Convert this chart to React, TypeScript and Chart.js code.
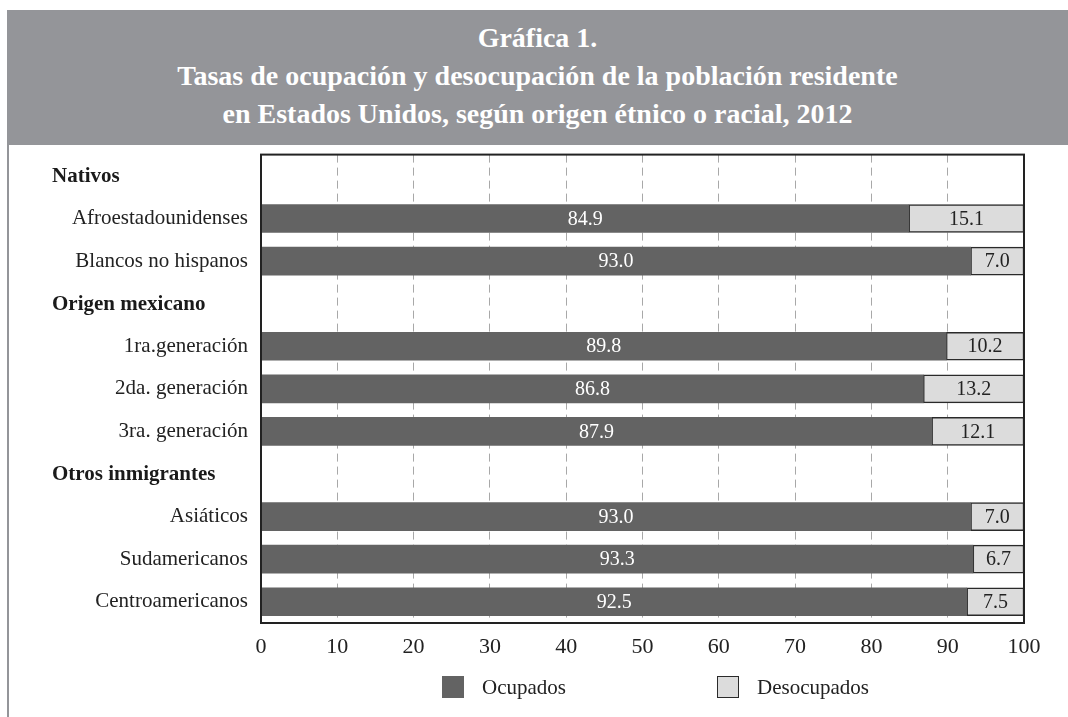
import React, { useEffect, useRef } from "react";
import { Chart, registerables } from "chart.js";

Chart.register(...registerables);

const categories = [
  "Nativos",
  "Afroestadounidenses",
  "Blancos no hispanos",
  "Origen mexicano",
  "1ra.generación",
  "2da. generación",
  "3ra. generación",
  "Otros inmigrantes",
  "Asiáticos",
  "Sudamericanos",
  "Centroamericanos",
];
const headerRows = ["Nativos", "Origen mexicano", "Otros inmigrantes"];
const ocupados = [null, 84.9, 93.0, null, 89.8, 86.8, 87.9, null, 93.0, 93.3, 92.5];
const desocupados = [null, 15.1, 7.0, null, 10.2, 13.2, 12.1, null, 7.0, 6.7, 7.5];
const seriesNames = ["Ocupados", "Desocupados"];
const xTicks = [0, 10, 20, 30, 40, 50, 60, 70, 80, 90, 100];
const titleLines = [
  "Gráfica 1.",
  "Tasas de ocupación y desocupación de la población residente",
  "en Estados Unidos, según origen étnico o racial, 2012",
];

const FONT = '"Liberation Serif", "DejaVu Serif", serif';
const DARK = "#636363";
const LIGHT = "#dcdcdc";
const BANNER = "#949599";

export default function App() {
  const ref = useRef<HTMLCanvasElement | null>(null);

  useEffect(() => {
    if (!ref.current) return;
    const framePlugin = {
      id: "frameAndLabels",
      afterDatasetsDraw(chart: any) {
        const ctx = chart.ctx;
        chart.data.datasets.forEach((ds: any, di: number) => {
          const meta = chart.getDatasetMeta(di);
          meta.data.forEach((el: any, i: number) => {
            const v = ds.data[i];
            if (v === null || v === undefined) return;
            const props = el.getProps(["x", "y", "base"], true);
            const cx = (props.x + props.base) / 2;
            ctx.save();
            ctx.font = `20px ${FONT}`;
            ctx.fillStyle = di === 0 ? "#ffffff" : "#222222";
            ctx.textAlign = "center";
            ctx.textBaseline = "middle";
            ctx.fillText(v.toFixed(1), cx, props.y + 1);
            ctx.restore();
          });
        });
      },
      afterDraw(chart: any) {
        const ctx = chart.ctx;
        const a = chart.chartArea;
        ctx.save();
        ctx.strokeStyle = "#222222";
        ctx.lineWidth = 2;
        ctx.strokeRect(a.left, a.top, a.right - a.left, a.bottom - a.top);
        const yScale = chart.scales.y;
        ctx.font = `bold 21px ${FONT}`;
        ctx.fillStyle = "#1a1a1a";
        ctx.textAlign = "left";
        ctx.textBaseline = "middle";
        categories.forEach((c, i) => {
          if (headerRows.includes(c)) {
            ctx.fillText(c, 52, yScale.getPixelForValue(i) + 1);
          }
        });
        ctx.restore();
      },
    };

    const chart = new Chart(ref.current, {
      type: "bar",
      data: {
        labels: categories,
        datasets: [
          {
            label: seriesNames[0],
            data: ocupados,
            backgroundColor: DARK,
            borderWidth: 0,
            barThickness: 28,
          },
          {
            label: seriesNames[1],
            data: desocupados,
            backgroundColor: LIGHT,
            borderColor: "#2a2a2a",
            borderWidth: 1.5,
            borderSkipped: false,
            barThickness: 28,
          },
        ] as any,
      },
      options: {
        indexAxis: "y",
        responsive: false,
        animation: false,
        layout: { padding: { top: 9, right: 44, bottom: 54, left: 0 } },
        plugins: {
          legend: { display: false },
          tooltip: { enabled: false },
          title: { display: false },
        },
        scales: {
          x: {
            stacked: true,
            min: 0,
            max: 100,
            afterBuildTicks(scale: any) {
              scale.ticks = xTicks.map((v) => ({ value: v }));
            },
            afterFit(scale: any) {
              scale.height = 40;
            },
            grid: {
              color: "#a8a8a8",
              lineWidth: 1,
              drawTicks: false,
            },
            border: { display: false, dash: [8, 5] },
            ticks: {
              padding: 11,
              color: "#222222",
              font: { family: FONT, size: 22 },
            },
          },
          y: {
            stacked: true,
            afterFit(scale: any) {
              scale.width = 261;
            },
            grid: { display: false, drawTicks: false },
            border: { display: false },
            ticks: {
              padding: 13,
              color: "#222222",
              font: { family: FONT, size: 21 },
              callback: (_v: any, i: number) =>
                headerRows.includes(categories[i]) ? "" : categories[i],
            },
          },
        },
      } as any,
      plugins: [framePlugin],
    });
    return () => chart.destroy();
  }, []);

  return (
    <div style={{ position: "absolute", left: 0, top: 0, width: 1068, height: 717, background: "#fff", fontFamily: FONT }}>
      <div
        style={{
          position: "absolute",
          left: 7,
          top: 10,
          width: 1061,
          height: 135,
          background: BANNER,
          color: "#fff",
          fontWeight: "bold",
          fontSize: 28,
          textAlign: "center",
          boxSizing: "border-box",
          paddingTop: 9,
          lineHeight: "38px",
        }}
      >
        {titleLines.map((t) => (
          <div key={t}>{t}</div>
        ))}
      </div>
      <div style={{ position: "absolute", left: 7, top: 145, width: 2, height: 572, background: BANNER }} />
      <canvas ref={ref} width={1068} height={588} style={{ position: "absolute", left: 0, top: 129 }} />
      <div style={{ position: "absolute", left: 442, top: 676, width: 22, height: 22, background: DARK }} />
      <div style={{ position: "absolute", left: 482, top: 674, fontSize: 21, lineHeight: "26px", color: "#222" }}>{seriesNames[0]}</div>
      <div
        style={{
          position: "absolute",
          left: 717,
          top: 676,
          width: 22,
          height: 22,
          background: LIGHT,
          border: "1.5px solid #2a2a2a",
          boxSizing: "border-box",
        }}
      />
      <div style={{ position: "absolute", left: 757, top: 674, fontSize: 21, lineHeight: "26px", color: "#222" }}>{seriesNames[1]}</div>
    </div>
  );
}
